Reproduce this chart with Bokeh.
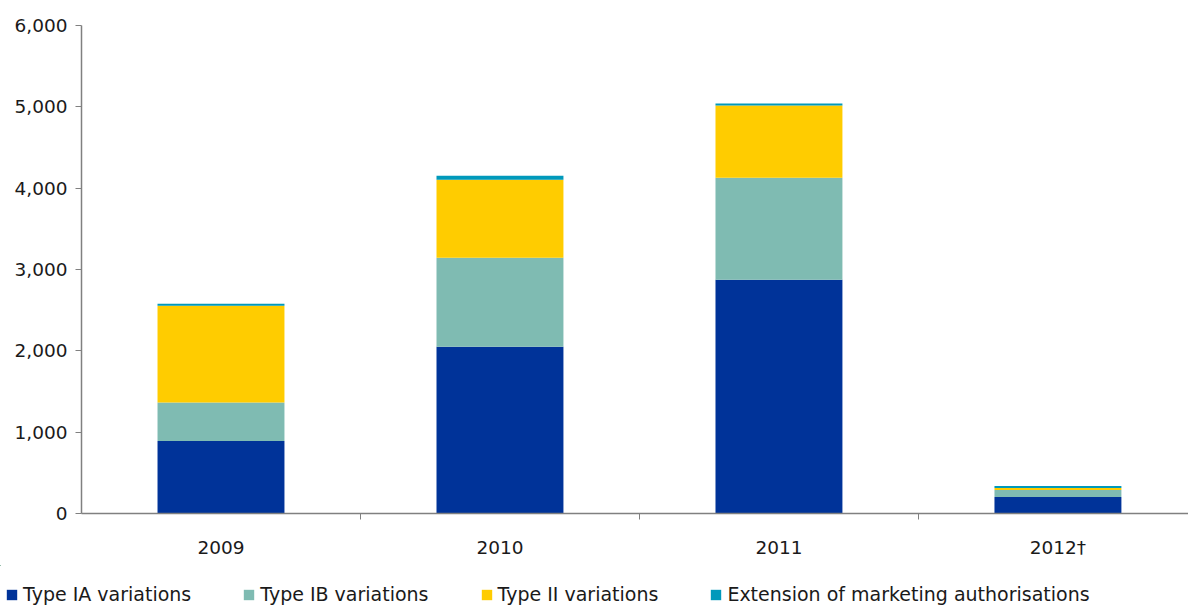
from bokeh.plotting import figure
from bokeh.layouts import column, row
from bokeh.models import (Range1d, FixedTicker, NumeralTickFormatter, Legend, LegendItem,
                          ColumnDataSource)
from bokeh.embed import file_html
from bokeh.resources import INLINE

categories = ["2009", "2010", "2011", "2012\u2020"]
type_ia = [892, 2049, 2874, 203]
type_ib = [472, 1096, 1255, 86]
type_ii = [1190, 960, 886, 25]
extension = [24, 49, 25, 24]

series = ["Type IA variations", "Type IB variations", "Type II variations",
          "Extension of marketing authorisations"]
colors = ["#003399", "#7fbbb2", "#ffcc00", "#0099bb"]
y_ticks = [0, 1000, 2000, 3000, 4000, 5000, 6000]

FONT = "DejaVu Sans"
TXT = "#1a1a1a"

xs = [i + 0.5 for i in range(len(categories))]
source = ColumnDataSource(dict(x=xs, ia=type_ia, ib=type_ib, ii=type_ii, ext=extension))
stack_keys = ["ia", "ib", "ii", "ext"]

p = figure(width=1188, height=565, output_backend="svg", toolbar_location=None,
           x_range=Range1d(0, 3.968), y_range=Range1d(0, 6000),
           min_border_left=81, min_border_right=0, min_border_top=25, min_border_bottom=52)
p.outline_line_color = None
p.grid.visible = False
p.background_fill_color = "white"

p.vbar_stack(stack_keys, x="x", width=0.455, color=colors, source=source, line_color=None)

# x axis
xa = p.xaxis[0]
xa.ticker = FixedTicker(ticks=xs, minor_ticks=[1, 2, 3])
xa.major_label_overrides = {x: c for x, c in zip(xs, categories)}
xa.major_tick_line_color = None
xa.minor_tick_line_color = "#808080"
xa.minor_tick_in = 0
xa.minor_tick_out = 6
xa.axis_line_color = "#808080"
xa.axis_line_width = 1.5
xa.major_label_standoff = 17
xa.major_label_text_font = FONT
xa.major_label_text_font_size = "18.5px"
xa.major_label_text_color = TXT

# y axis
ya = p.yaxis[0]
ya.ticker = FixedTicker(ticks=y_ticks)
ya.formatter = NumeralTickFormatter(format="0,0")
ya.minor_tick_line_color = None
ya.major_tick_in = 0
ya.major_tick_out = 6
ya.major_tick_line_color = "#808080"
ya.axis_line_color = "#808080"
ya.axis_line_width = 1.5
ya.major_label_standoff = 8
ya.major_label_text_font = FONT
ya.major_label_text_font_size = "18.5px"
ya.major_label_text_color = TXT

# legend strip (bars drawn far outside its visible range; only the legend shows)
lg = figure(width=1188, height=40, output_backend="svg", toolbar_location=None,
            x_range=Range1d(100, 101), y_range=Range1d(-20000, -19999),
            x_axis_location=None, y_axis_location=None,
            min_border_left=0, min_border_right=0, min_border_top=0, min_border_bottom=0)
lg.grid.visible = False
lg.outline_line_color = None
lg_rs = lg.vbar_stack(stack_keys, x="x", width=0.455, color=colors, source=source,
                      line_color=None)
items = [LegendItem(label=s, renderers=[r]) for s, r in zip(series, lg_rs)]
legend = Legend(items=items, orientation="horizontal", location=(5, 0),
                glyph_width=13, glyph_height=13, label_standoff=5, spacing=51,
                padding=0, margin=0, border_line_color=None, background_fill_alpha=0,
                label_text_font=FONT, label_text_font_size="19px",
                label_text_color=TXT, label_height=20)
lg.add_layout(legend, "center")

layout = column(p, row(lg), spacing=0)
open("out.html", "w").write(file_html(layout, INLINE))
